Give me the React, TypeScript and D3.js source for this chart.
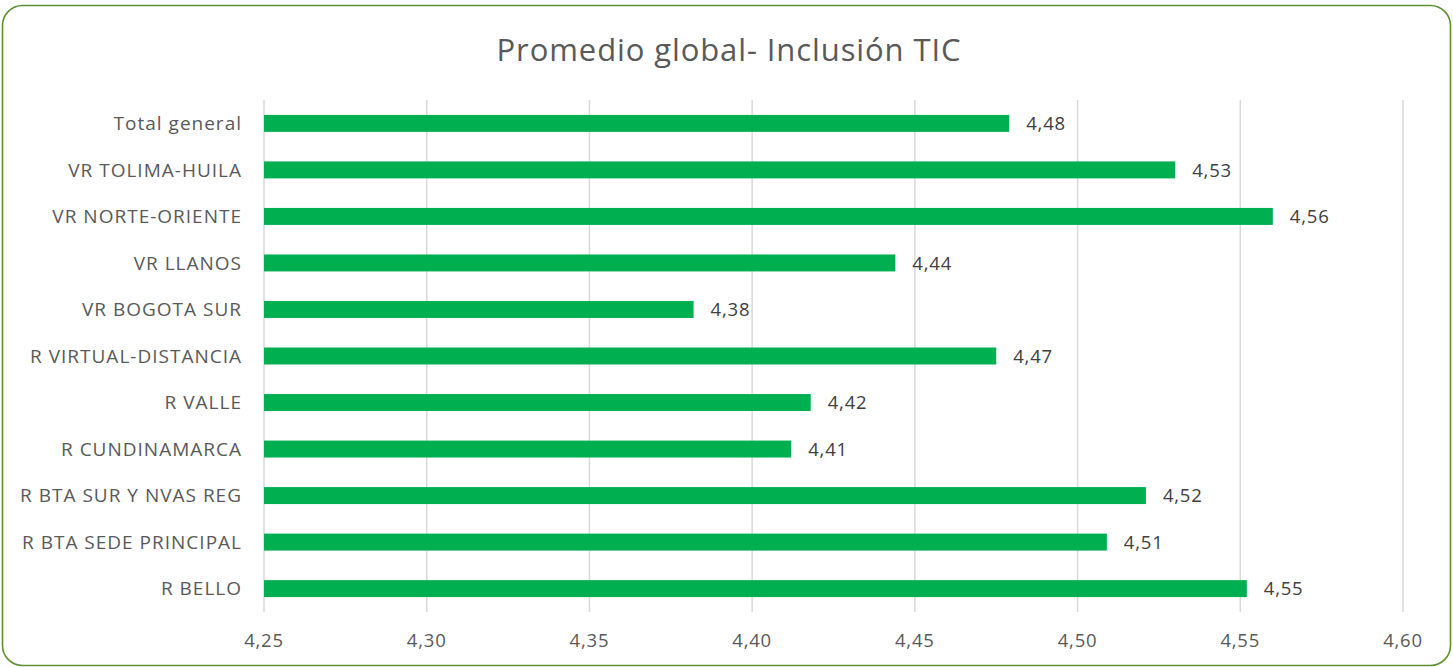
import React from "react";
import * as d3 from "d3";

const categories = [
  "Total general",
  "VR TOLIMA-HUILA",
  "VR NORTE-ORIENTE",
  "VR LLANOS",
  "VR BOGOTA SUR",
  "R VIRTUAL-DISTANCIA",
  "R VALLE",
  "R CUNDINAMARCA",
  "R BTA SUR Y NVAS REG",
  "R BTA SEDE PRINCIPAL",
  "R BELLO",
];
const values = [4.479, 4.53, 4.56, 4.444, 4.382, 4.475, 4.418, 4.412, 4.521, 4.509, 4.552];
const tickValues = [4.25, 4.3, 4.35, 4.4, 4.45, 4.5, 4.55, 4.6];

const W = 1453;
const H = 667;
const FONT = "'Open Sans', 'Noto Sans', sans-serif";

export default function App() {
  const margin = { left: 264, right: 50, top: 100, bottom: 55 };
  const x = d3.scaleLinear().domain([4.25, 4.6]).range([264, 1403]);
  const y = d3
    .scaleBand<string>()
    .domain(categories)
    .range([100, 612])
    .paddingInner(0.635)
    .paddingOuter(0.32);
  const fmt = (v: number) => d3.format(".2f")(v).replace(".", ",");

  return (
    <div style={{ position: "absolute", left: 0, top: 0 }}>
      <svg width={W} height={H} style={{ display: "block" }}>
        <rect x={0} y={0} width={W} height={H} fill="#fff" />
        <rect
          x={2.5}
          y={5.5}
          width={W - 5}
          height={H - 7}
          rx={20}
          ry={20}
          fill="#fff"
          stroke="#5e8f32"
          strokeWidth={1.6}
        />
        <text
          x={729}
          y={61}
          textAnchor="middle"
          fontFamily={FONT}
          fontSize={31}
          letterSpacing={0.9}
          fill="#595959"
        >
          Promedio global- Inclusión TIC
        </text>
        {tickValues.map((t) => (
          <g key={t}>
            <line
              x1={x(t)}
              x2={x(t)}
              y1={margin.top}
              y2={612}
              stroke="#d9d9d9"
              strokeWidth={1.5}
            />
            <text
              x={x(t)}
              y={647}
              textAnchor="middle"
              fontFamily={FONT}
              fontSize={18.5}
              letterSpacing={0.8}
              fill="#595959"
            >
              {fmt(t)}
            </text>
          </g>
        ))}
        {categories.map((c, i) => {
          const by = y(c)!;
          const bh = y.bandwidth();
          return (
            <g key={c}>
              <rect
                x={x(4.25)}
                y={by}
                width={x(values[i]) - x(4.25)}
                height={bh}
                fill="#00b050"
              />
              <text
                x={242}
                y={by + bh / 2}
                dy="0.36em"
                textAnchor="end"
                fontFamily={FONT}
                fontSize={19}
                letterSpacing={1.0}
                fill="#595959"
              >
                {c}
              </text>
              <text
                x={x(values[i]) + 17}
                y={by + bh / 2}
                dy="0.36em"
                fontFamily={FONT}
                fontSize={18.5}
                letterSpacing={0.8}
                fill="#404040"
              >
                {fmt(values[i])}
              </text>
            </g>
          );
        })}
      </svg>
    </div>
  );
}
